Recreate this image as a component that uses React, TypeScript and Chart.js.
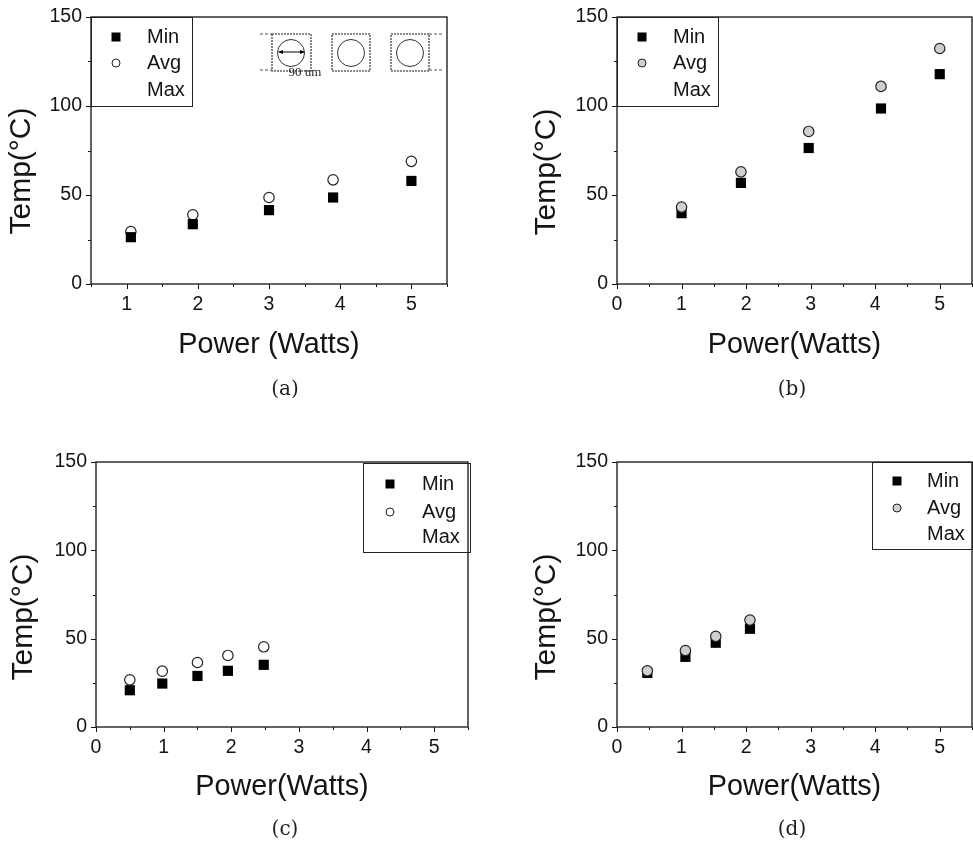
import React, { useEffect, useRef } from "react";
import { Chart, registerables } from "chart.js";

Chart.register(...registerables);

const seriesNames = ["Min", "Avg", "Max"];
const yTicks = [0, 50, 100, 150];
const xTitleA = "Power (Watts)";
const xTitleRest = "Power(Watts)";
const yTitle = "Temp(°C)";

const xA = [1.06, 1.93, 3.0, 3.9, 5.0];
const minA = [26.3, 33.6, 41.5, 48.6, 57.9];
const avgA = [29.5, 38.9, 48.6, 58.5, 68.9];

const xB = [1.0, 1.92, 2.97, 4.09, 5.0];
const minB = [39.8, 56.8, 76.4, 98.6, 117.9];
const avgB = [43.2, 63.0, 85.7, 111.0, 132.3];

const xC = [0.5, 0.98, 1.5, 1.95, 2.48];
const minC = [20.8, 24.6, 28.9, 31.8, 35.2];
const avgC = [26.7, 31.6, 36.5, 40.5, 45.4];

const xD = [0.47, 1.06, 1.53, 2.06];
const minD = [30.6, 39.7, 47.7, 55.6];
const avgD = [31.8, 43.3, 51.3, 60.5];

const FONT = '"Liberation Sans", Arial, sans-serif';
const INK = "#141414";

type Panel = {
  caption: string; capX: number; capY: number;
  left: number; top: number; w: number; h: number;
  aL: number; aR: number; aT: number; aB: number;
  xMin: number; xTitle: string; xTitleY: number;
  yTitleX: number; yTitleY: number;
  xs: number[]; mins: number[]; avgs: number[];
  avgFill: string; avgOnTop: boolean;
  legend: { x0: number; x1: number; y0: number; y1: number; mx: number; tx: number; rows: number[] };
  inset?: boolean;
};

const panels: Panel[] = [
  { caption: "(a)", capX: 285, capY: 388, left: 0, top: 0, w: 486, h: 420, aL: 91, aR: 447, aT: 17, aB: 284,
    xMin: 0.5, xTitle: xTitleA, xTitleY: 345, yTitleX: 22, yTitleY: 171, xs: xA, mins: minA, avgs: avgA,
    avgFill: "#ffffff", avgOnTop: false,
    legend: { x0: 91, x1: 192, y0: 17, y1: 106, mx: 116, tx: 147, rows: [37, 63, 90] }, inset: true },
  { caption: "(b)", capX: 792, capY: 388, left: 490, top: 0, w: 483, h: 420, aL: 127, aR: 482, aT: 17, aB: 284,
    xMin: 0, xTitle: xTitleRest, xTitleY: 345, yTitleX: 57, yTitleY: 172, xs: xB, mins: minB, avgs: avgB,
    avgFill: "#cfcfcf", avgOnTop: true,
    legend: { x0: 127, x1: 228, y0: 17, y1: 106, mx: 152, tx: 183, rows: [37, 63, 90] } },
  { caption: "(c)", capX: 285, capY: 828, left: 0, top: 430, w: 490, h: 412, aL: 96, aR: 468, aT: 32, aB: 297,
    xMin: 0, xTitle: xTitleRest, xTitleY: 357, yTitleX: 24, yTitleY: 187, xs: xC, mins: minC, avgs: avgC,
    avgFill: "#ffffff", avgOnTop: false,
    legend: { x0: 363, x1: 470, y0: 33, y1: 122, mx: 390, tx: 422, rows: [54, 82, 107] } },
  { caption: "(d)", capX: 792, capY: 828, left: 490, top: 430, w: 483, h: 412, aL: 127, aR: 482, aT: 32, aB: 297,
    xMin: 0, xTitle: xTitleRest, xTitleY: 357, yTitleX: 57, yTitleY: 187, xs: xD, mins: minD, avgs: avgD,
    avgFill: "#cfcfcf", avgOnTop: true,
    legend: { x0: 382, x1: 482, y0: 32, y1: 119, mx: 407, tx: 437, rows: [51, 78, 104] } },
];

function drawInset(ctx: CanvasRenderingContext2D) {
  const squares = [[272, 311, 291], [332, 370, 351], [391, 429, 410]];
  ctx.save();
  ctx.strokeStyle = "#555";
  ctx.lineWidth = 1;
  ctx.setLineDash([3, 2]);
  ctx.beginPath();
  ctx.moveTo(260, 34); ctx.lineTo(272, 34);
  ctx.moveTo(260, 70); ctx.lineTo(272, 70);
  ctx.moveTo(429, 34); ctx.lineTo(442, 34);
  ctx.moveTo(429, 70); ctx.lineTo(442, 70);
  ctx.stroke();
  for (const [x0, x1, cx] of squares) {
    ctx.strokeStyle = "#666";
    ctx.lineWidth = 1.6;
    ctx.setLineDash([2, 1]);
    ctx.strokeRect(x0, 34, x1 - x0, 37);
    ctx.strokeStyle = "#333";
    ctx.lineWidth = 1;
    ctx.setLineDash([]);
    ctx.beginPath();
    ctx.arc(cx, 53, 13.5, 0, Math.PI * 2);
    ctx.stroke();
  }
  ctx.strokeStyle = "#000";
  ctx.beginPath();
  ctx.moveTo(279, 52); ctx.lineTo(304, 52);
  ctx.stroke();
  ctx.fillStyle = "#000";
  ctx.beginPath();
  ctx.moveTo(278, 52); ctx.lineTo(283, 50); ctx.lineTo(283, 54); ctx.closePath();
  ctx.moveTo(305, 52); ctx.lineTo(300, 50); ctx.lineTo(300, 54); ctx.closePath();
  ctx.fill();
  ctx.fillStyle = "#222";
  ctx.font = '13px "Liberation Serif", serif';
  ctx.textAlign = "center";
  ctx.textBaseline = "middle";
  ctx.fillText("90 um", 305, 73);
  ctx.restore();
}

const panelDecor = {
  id: "panelDecor",
  afterDraw(chart: any, _args: any, opts: any) {
    const p: Panel = opts.panel;
    const { ctx, chartArea: a, scales } = chart;
    ctx.save();

    // tick marks: 5px on labelled values, 3px on the others
    ctx.strokeStyle = INK;
    ctx.lineWidth = 1;
    ctx.beginPath();
    for (const t of scales.x.ticks) {
      const px = Math.round(scales.x.getPixelForValue(t.value)) + 0.5;
      ctx.moveTo(px, a.bottom);
      ctx.lineTo(px, a.bottom + (Number.isInteger(t.value) ? 5 : 3));
    }
    for (const t of scales.y.ticks) {
      const py = Math.round(scales.y.getPixelForValue(t.value)) + 0.5;
      ctx.moveTo(a.left, py);
      ctx.lineTo(a.left - (yTicks.includes(t.value) ? 5 : 3), py);
    }
    ctx.stroke();

    // frame
    ctx.strokeStyle = "#222";
    ctx.lineWidth = 1.4;
    ctx.strokeRect(a.left, a.top, a.right - a.left, a.bottom - a.top);

    // legend
    const l = p.legend;
    ctx.lineWidth = 1;
    ctx.strokeStyle = "#222";
    ctx.strokeRect(l.x0 + 0.5, l.y0 + 0.5, l.x1 - l.x0, l.y1 - l.y0);
    ctx.font = `20px ${FONT}`;
    ctx.textAlign = "left";
    ctx.textBaseline = "middle";
    chart.data.datasets.forEach((d: any) => {
      const i = seriesNames.indexOf(d.label);
      const y = l.rows[i];
      ctx.fillStyle = INK;
      ctx.fillText(d.label, l.tx, y);
      if (d.label === "Min") {
        ctx.fillStyle = "#000";
        ctx.fillRect(l.mx - 4.5, y - 4.5, 9, 9);
      } else if (d.label === "Avg") {
        ctx.beginPath();
        ctx.arc(l.mx, y, 4, 0, Math.PI * 2);
        ctx.fillStyle = d.pointBackgroundColor;
        ctx.fill();
        ctx.strokeStyle = "#222";
        ctx.stroke();
      }
    });

    // y axis title, sits below the middle of the axis in the reference
    const yt = scales.y.options.title;
    ctx.translate(p.yTitleX, p.yTitleY);
    ctx.rotate(-Math.PI / 2);
    ctx.font = `${yt.font.size}px ${FONT}`;
    ctx.fillStyle = yt.color;
    ctx.textAlign = "center";
    ctx.textBaseline = "middle";
    ctx.fillText(yt.text, 0, 0);
    ctx.restore();

    if (p.inset) drawInset(ctx);
  },
};

function PanelChart({ p }: { p: Panel }) {
  const ref = useRef<HTMLCanvasElement>(null);
  useEffect(() => {
    if (!ref.current) return;
    const xTitlePad = p.h - p.xTitleY - 14.5;
    const chart = new Chart(ref.current, {
      type: "scatter",
      data: {
        datasets: [
          {
            label: seriesNames[0],
            data: p.xs.map((x, i) => ({ x, y: p.mins[i] })),
            pointStyle: "rect",
            pointRadius: 7.2,
            pointBackgroundColor: "#000",
            pointBorderColor: "#000",
            pointBorderWidth: 0,
            order: p.avgOnTop ? 2 : 1,
          },
          {
            label: seriesNames[1],
            data: p.xs.map((x, i) => ({ x, y: p.avgs[i] })),
            pointStyle: "circle",
            pointRadius: 5.2,
            pointBackgroundColor: p.avgFill,
            pointBorderColor: "#222",
            pointBorderWidth: 1.2,
            order: p.avgOnTop ? 1 : 2,
          },
          { label: seriesNames[2], data: [], pointRadius: 0 },
        ],
      },
      options: {
        animation: false,
        responsive: false,
        layout: { autoPadding: false, padding: { left: 0, right: p.w - p.aR, top: p.aT, bottom: 0 } },
        plugins: {
          legend: { display: false },
          tooltip: { enabled: false },
          panelDecor: { panel: p },
        } as any,
        scales: {
          x: {
            type: "linear",
            min: p.xMin,
            max: 5.5,
            afterFit: (s: any) => { s.height = p.h - p.aB; },
            border: { display: false },
            grid: {
              drawOnChartArea: false,
              tickLength: 9,
              tickColor: "transparent",
            },
            ticks: {
              stepSize: 0.5,
              autoSkip: false,
              maxRotation: 0,
              padding: 0,
              color: INK,
              font: { family: FONT, size: 19.5 },
              callback: (v: any) => (Number.isInteger(v) ? String(v) : ""),
            },
            title: {
              display: true,
              text: p.xTitle,
              color: INK,
              font: { family: FONT, size: 28.8, lineHeight: 1 },
              padding: { top: 0, bottom: xTitlePad },
            },
          },
          y: {
            type: "linear",
            min: 0,
            max: 150,
            afterFit: (s: any) => { s.width = p.aL; },
            border: { display: false },
            grid: {
              drawOnChartArea: false,
              tickLength: 9,
              tickColor: "transparent",
            },
            ticks: {
              stepSize: 25,
              autoSkip: false,
              padding: 0,
              color: INK,
              font: { family: FONT, size: 19.5 },
              callback: (v: any) => (yTicks.includes(v) ? String(v) : ""),
            },
            title: {
              display: false,
              text: yTitle,
              color: INK,
              font: { family: FONT, size: 30 },
            },
          },
        },
      },
      plugins: [panelDecor],
    } as any);
    return () => chart.destroy();
  }, [p]);
  return (
    <canvas
      ref={ref}
      width={p.w}
      height={p.h}
      style={{ position: "absolute", left: p.left, top: p.top, width: p.w, height: p.h, display: "block" }}
    />
  );
}

export default function App() {
  return (
    <div style={{ position: "absolute", left: 0, top: 0, width: 973, height: 842, background: "#fff", overflow: "hidden" }}>
      {panels.map((p) => (
        <PanelChart key={p.caption} p={p} />
      ))}
      {panels.map((p) => (
        <div
          key={"cap" + p.caption}
          style={{
            position: "absolute",
            left: p.capX - 40,
            top: p.capY - 14,
            width: 80,
            height: 28,
            lineHeight: "28px",
            textAlign: "center",
            fontFamily: '"DejaVu Serif", serif',
            fontSize: 20,
            color: "#222",
          }}
        >
          {p.caption}
        </div>
      ))}
    </div>
  );
}
